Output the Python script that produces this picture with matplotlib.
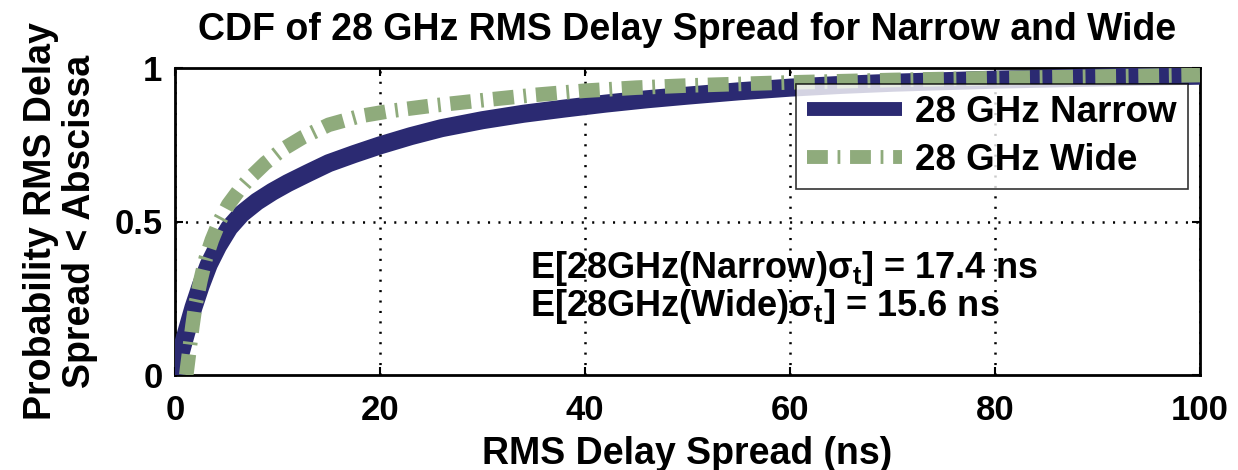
import matplotlib
matplotlib.use("Agg")
import matplotlib.pyplot as plt

# ---- data ----
narrow_x = [0, 0.3, 0.7, 1.2, 1.8, 2.5, 3.3, 4.2, 5.3, 6.5, 8, 9.5, 11, 13, 15, 17.5, 20, 23, 26, 30,
            34, 38, 42, 46, 50, 55, 60, 65, 70, 80, 90, 100]
narrow_y = [0, 0.04, 0.09, 0.15, 0.22, 0.29, 0.36, 0.42, 0.48, 0.525, 0.565, 0.597, 0.625, 0.658, 0.69,
            0.72, 0.748, 0.778, 0.804, 0.83, 0.851, 0.868, 0.884, 0.898, 0.91, 0.924, 0.936, 0.945, 0.952,
            0.962, 0.969, 0.975]
wide_x = [1.1, 1.4, 1.7, 2.0, 2.5, 3.0, 3.6, 4.4, 5.2, 6.2, 7.4, 8.8, 10.5, 12.5, 15, 18, 21, 25, 30,
          35, 40, 45, 50, 60, 70, 80, 90, 100]
wide_y = [0, 0.08, 0.16, 0.23, 0.31, 0.38, 0.44, 0.505, 0.555, 0.60, 0.645, 0.69, 0.735, 0.775, 0.815,
          0.843, 0.86, 0.877, 0.895, 0.912, 0.926, 0.936, 0.943, 0.953, 0.961, 0.967, 0.972, 0.977]
series_labels = ["28 GHz Narrow", "28 GHz Wide"]
annotations = [r"E[28GHz(Narrow)$\mathbf{\sigma_t}$] = 17.4 ns", r"E[28GHz(Wide)$\mathbf{\sigma_t}$] = 15.6 ns"]
xticks = [0, 20, 40, 60, 80, 100]
yticks = [0, 0.5, 1]
ytick_labels = ["0", "0.5", "1"]

plt.rcParams["font.family"] = "Liberation Sans"
plt.rcParams["font.weight"] = "bold"
plt.rcParams["mathtext.fontset"] = "custom"
plt.rcParams["mathtext.rm"] = "Liberation Sans:bold"
plt.rcParams["mathtext.bf"] = "Liberation Sans:bold"
plt.rcParams["mathtext.it"] = "Liberation Sans:bold"
plt.rcParams["lines.scale_dashes"] = False

BLUE = "#2b2a72"
GREEN = "#8fab7c"

fig = plt.figure(figsize=(12.38, 4.7), dpi=100)
ax = fig.add_axes([175/1238, 1 - 375/470, (1200-175)/1238, (375-68)/470])

ax.plot(narrow_x, narrow_y, color=BLUE, lw=13, solid_capstyle="butt", solid_joinstyle="round",
        label=series_labels[0], zorder=3)
ax.plot(wide_x, wide_y, color=GREEN, lw=10.5, ls=(0, (15, 7, 2, 7)), dash_capstyle="butt",
        label=series_labels[1], zorder=4)

ax.set_xlim(0, 100)
ax.set_ylim(0, 1)
ax.set_xticks(xticks)
ax.set_yticks(yticks)
ax.set_yticklabels(ytick_labels)
ax.tick_params(axis="both", direction="in", top=True, right=True, length=6, width=1.5)
ax.tick_params(axis="x", pad=14)
ax.tick_params(axis="y", pad=9)
for lab in ax.get_xticklabels():
    lab.set_fontsize(25)
    lab.set_fontweight("bold")
for lab in ax.get_yticklabels():
    lab.set_fontsize(25)
    lab.set_fontweight("bold")
for s in ax.spines.values():
    s.set_linewidth(2)
ax.grid(True, axis="x", color="black", ls=(0, (1.5, 6)), lw=1.8)
ax.axhline(0.5, color="black", ls=(0, (1.5, 6)), lw=1.8, zorder=1)

ax.set_title("CDF of 28 GHz RMS Delay Spread for Narrow and Wide", fontsize=27,
             fontweight="bold", pad=20)
ax.set_xlabel("RMS Delay Spread (ns)", fontsize=27, fontweight="bold", labelpad=6)
ax.set_ylabel("Probability RMS Delay\nSpread < Abscissa", fontsize=27, fontweight="bold",
              linespacing=1.1, labelpad=12)

leg = ax.legend(loc="upper right", bbox_to_anchor=(1188/1238, 1 - 84/470), bbox_transform=fig.transFigure,
                prop={"family": "Liberation Sans", "weight": "bold", "size": 26.5}, frameon=True,
                fancybox=False, handlelength=2.6, handletextpad=0.35, borderpad=0.3, labelspacing=0.35,
                borderaxespad=0)
leg.get_frame().set_edgecolor("black")
leg.get_frame().set_linewidth(1.2)
leg.set_zorder(10)
for h in leg.get_lines():
    h.set_linewidth(10)

ax.text(530/1238, 1 - 269/470, annotations[0], transform=fig.transFigure, fontsize=26, fontweight="bold",
        va="center", ha="left")
ax.text(530/1238, 1 - 306/470, annotations[1], transform=fig.transFigure, fontsize=26, fontweight="bold",
        va="center", ha="left")

fig.savefig("out.png", dpi=100)
